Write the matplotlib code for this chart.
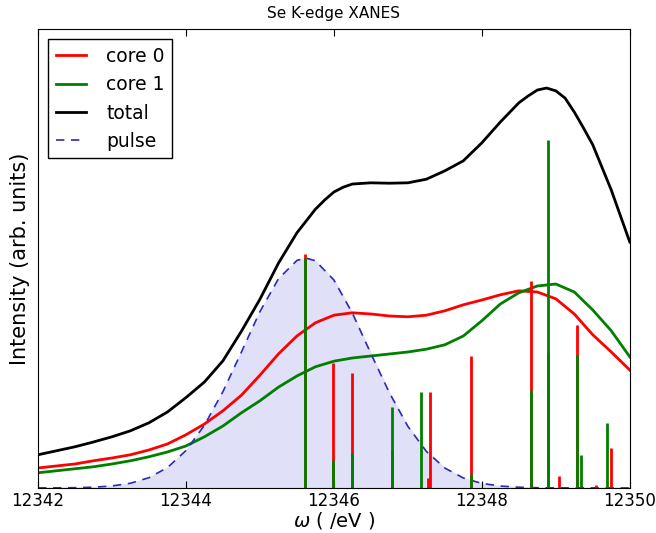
import numpy as np
import matplotlib
matplotlib.use("Agg")
import matplotlib.pyplot as plt

# energy grid (eV) for the core spectra
energy = np.arange(12342.0, 12350.01, 0.25)

core0 = [0.050, 0.055, 0.060, 0.068, 0.075, 0.083, 0.095, 0.110, 0.133, 0.160,
         0.193, 0.232, 0.282, 0.335, 0.380, 0.413, 0.432, 0.438, 0.435, 0.430,
         0.428, 0.432, 0.443, 0.458, 0.470, 0.483, 0.493, 0.490, 0.473, 0.435,
         0.383, 0.340, 0.295]
core1 = [0.038, 0.043, 0.048, 0.053, 0.060, 0.068, 0.078, 0.090, 0.105, 0.128,
         0.155, 0.188, 0.218, 0.252, 0.280, 0.303, 0.317, 0.325, 0.330, 0.335,
         0.340, 0.347, 0.358, 0.380, 0.418, 0.460, 0.488, 0.505, 0.510, 0.490,
         0.445, 0.393, 0.328]

total_e = [12342.0, 12342.25, 12342.5, 12342.75, 12343.0, 12343.25, 12343.5, 12343.75,
           12344.0, 12344.25, 12344.5, 12344.75, 12345.0, 12345.25, 12345.5, 12345.75,
           12345.875, 12346.0, 12346.125, 12346.25, 12346.5, 12346.75, 12347.0, 12347.25,
           12347.5, 12347.75, 12348.0, 12348.25, 12348.5, 12348.625, 12348.75, 12348.875,
           12349.0, 12349.125, 12349.25, 12349.375, 12349.5, 12349.75, 12350.0]
total = [0.083, 0.093, 0.103, 0.115, 0.128, 0.143, 0.163, 0.190,
         0.226, 0.265, 0.318, 0.392, 0.472, 0.562, 0.638, 0.697,
         0.720, 0.740, 0.752, 0.760, 0.763, 0.762, 0.763, 0.772,
         0.793, 0.818, 0.863, 0.915, 0.963, 0.980, 0.995, 1.000,
         0.993, 0.975, 0.940, 0.900, 0.858, 0.745, 0.615]

pulse_e = [12342.0, 12342.5, 12342.75, 12343.0, 12343.25, 12343.5, 12343.75, 12344.0,
           12344.25, 12344.5, 12344.75, 12345.0, 12345.25, 12345.5, 12345.62, 12345.75,
           12346.0, 12346.25, 12346.5, 12346.75, 12347.0, 12347.25, 12347.5, 12347.75,
           12348.0, 12348.25, 12348.5, 12348.75, 12349.0, 12350.0]
pulse = [0.0001, 0.0007, 0.0019, 0.005, 0.0118, 0.0257, 0.051, 0.0935,
         0.157, 0.241, 0.340, 0.441, 0.523, 0.569, 0.575, 0.568,
         0.520, 0.437, 0.336, 0.238, 0.154, 0.0914, 0.0498, 0.0249,
         0.0114, 0.0048, 0.0018, 0.0006, 0.0002, 0.0]

# stick spectra (transition energies and strengths)
sticks0_e = [12345.61, 12345.99, 12346.25, 12346.78, 12347.27, 12347.30, 12347.85,
             12348.66, 12348.90, 12349.05, 12349.28, 12349.55, 12349.75]
sticks0_h = [0.585, 0.313, 0.288, 0.095, 0.025, 0.240, 0.330,
             0.518, 0.340, 0.030, 0.408, 0.008, 0.100]
sticks1_e = [12345.61, 12345.99, 12346.25, 12346.78, 12347.18, 12347.85,
             12348.66, 12348.90, 12349.28, 12349.34, 12349.69]
sticks1_h = [0.575, 0.070, 0.088, 0.203, 0.240, 0.035,
             0.245, 0.870, 0.333, 0.083, 0.163]

plt.rcParams["font.size"] = 12

fig = plt.figure(figsize=(6.56, 5.33), dpi=100)
ax = fig.add_axes([0.058, 0.0845, 0.902, 0.861])

ax.plot(energy, core0, color="r", lw=2, label="core 0")
ax.plot(energy, core1, color="g", lw=2, label="core 1")
ax.plot(total_e, total, color="k", lw=2, label="total")
ax.plot(pulse_e, pulse, color="#2b2bb8", lw=1.2, ls=(0, (5, 4)), label="pulse")
ax.fill_between(pulse_e, 0, pulse, color="#e0e0f8", zorder=0)

ax.vlines(sticks0_e, 0, sticks0_h, color="r", lw=2)
ax.vlines(sticks1_e, 0, sticks1_h, color="g", lw=2)

ax.set_xlim(12342, 12350)
ax.set_ylim(0, 1.1475)
ax.set_xticks([12342, 12344, 12346, 12348, 12350])
ax.get_xaxis().get_major_formatter().set_useOffset(False)
ax.set_yticks([])
ax.tick_params(axis="x", direction="in", top=True, length=5, pad=3)
ax.set_xlabel(r"$\omega$ ( /eV )", fontsize=14, labelpad=0)
ax.set_ylabel("Intensity (arb. units)", fontsize=15, labelpad=6)
ax.set_title("Se K-edge XANES", fontsize=11, pad=8)

leg = ax.legend(loc="upper left", fancybox=False, framealpha=1, fontsize=13.5,
                edgecolor="k", handlelength=1.6, handletextpad=1.1,
                borderaxespad=0.55)
leg.get_frame().set_linewidth(1.0)

fig.savefig("out.png", dpi=100)
